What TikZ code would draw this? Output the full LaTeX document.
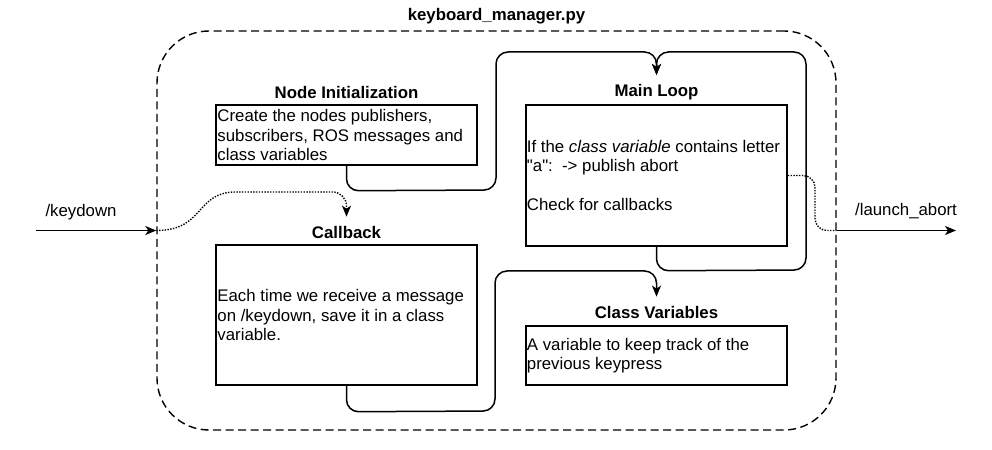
\documentclass[tikz,border=0pt]{standalone}
\usepackage{fontspec}
\setmainfont{Liberation Sans}[Ligatures=TeXOff]
\usetikzlibrary{arrows.meta,calc}
\begin{document}
\begin{tikzpicture}[x=1bp,y=-1bp,
  every node/.style={font=\fontsize{16.8bp}{19.5bp}\selectfont},
  box/.style={draw, line width=1.5bp, minimum width=261bp, inner sep=0pt},
  txt/.style={anchor=west, align=left, inner sep=0pt},
  ttl/.style={font=\fontsize{16.8bp}{19.5bp}\selectfont\bfseries, inner xsep=2bp, inner ysep=9bp},
  tip/.style={-{Stealth[length=11bp,width=9bp,inset=3bp]}},
  conn/.style={line width=1.5bp, rounded corners=12bp, tip},
  dots/.style={line width=1.4bp, dash pattern=on 1.4bp off 1.4bp},
  pkgbox/.style={draw, line width=1.4bp, dash pattern=on 8bp off 4.5bp, rounded corners=52bp,
    minimum width=679bp, minimum height=399bp, inner sep=0pt}]
\useasboundingbox (0,0) rectangle (992,450);

% package container
\node[pkgbox] (pkg) at (496.5,230.5) {};
\node[ttl, inner ysep=2bp] (pkgT) at (496.5,16) {keyboard\_manager.py};

% boxes
\node[box, minimum height=60bp] (ninit) at (346.5,135) {};
\node[txt] (ninitX) at ([xshift=2bp]ninit.west) {Create the nodes publishers,\\subscribers, ROS messages and\\class variables};
\node[ttl] (ninitT) at (346.5,92) {Node Initialization};

\node[box, minimum height=140bp] (cb) at (346.5,315) {};
\node[txt] (cbX) at ([xshift=2bp]cb.west) {Each time we receive a message\\on /keydown, save it in a class\\variable.};
\node[ttl] (cbT) at (346.5,232) {Callback};

\node[box, minimum height=141bp] (ml) at (656.5,175.5) {};
\node[txt] (mlX) at ([xshift=1.5bp]ml.west) {If the \textit{class variable} contains letter\\"a":\hspace{0.55em}-> publish abort\\\mbox{}\\Check for callbacks};
\node[ttl] (mlT) at (656.5,92) {Main Loop};

\node[box, minimum height=59bp] (cv) at (656.5,355.5) {};
\node[txt] (cvX) at ([xshift=1.5bp]cv.west) {A variable to keep track of the\\previous keypress};
\node[ttl] (cvT) at (656.5,312) {Class Variables};

% helper coordinates
\coordinate (ytop) at (0,52);
\coordinate (ycv) at (0,271);
\coordinate (ykd) at (0,192);

% flow connectors
\draw[conn] (ninit.south) -- ++(0,25) -- (496,190) -- (496,52) -- (mlT.north |- ytop) -- (mlT.north);
\draw[conn] (ml.south) -- ++(0,24) -- (806,270) -- (806,52) -- (mlT.north |- ytop) -- (mlT.north);
\draw[conn] (cb.south) -- ++(0,26) -- (495,411) -- (495,271) -- (cvT.north |- ycv) -- (cvT.north);

% input topic
\coordinate (kin) at (36,230.5);
\draw[line width=1.5bp, tip] (kin) -- (pkg.west);
\node (kdL) at (81,212) {/keydown};
\draw[dots, rounded corners=14bp, tip] (pkg.west) .. controls (205,230.5) and (195,192) .. (250,192) -- (cbT.north |- ykd) -- (cbT.north);

% output topic
\draw[dots, rounded corners=12bp] (ml.east) -- (815,175.5) -- (815,230.5) -- (pkg.east);
\coordinate (kout) at (956,230.5);
\draw[line width=1.5bp, tip] (pkg.east) -- (kout);
\node (laL) at (906,211) {/launch\_abort};
\end{tikzpicture}
\end{document}
